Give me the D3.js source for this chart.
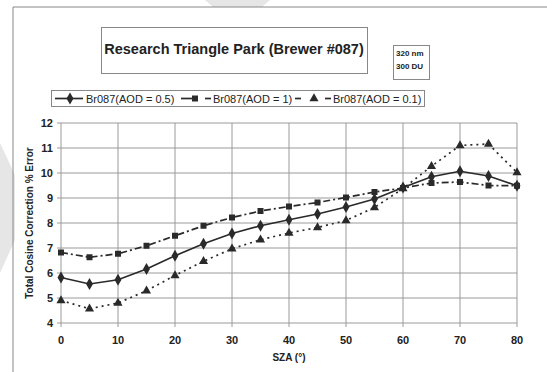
<!DOCTYPE html>
<html><head><meta charset="utf-8">
<script src="https://cdn.jsdelivr.net/npm/d3@7/dist/d3.min.js"></script>
<style>body{margin:0;background:#fff}svg{display:block;font-family:"Liberation Sans",Arial,sans-serif}</style>
</head><body><svg id="c" width="547" height="372"></svg>
<script>
const sza = [0,5,10,15,20,25,30,35,40,45,50,55,60,65,70,75,80];
const aod05 = [5.82,5.56,5.73,6.16,6.69,7.17,7.58,7.89,8.13,8.36,8.64,8.96,9.42,9.85,10.07,9.88,9.49];
const aod1  = [6.82,6.63,6.77,7.09,7.49,7.89,8.22,8.48,8.66,8.82,9.02,9.24,9.4,9.6,9.64,9.5,9.49];
const aod01 = [4.9,4.57,4.8,5.29,5.9,6.47,6.97,7.33,7.6,7.82,8.1,8.62,9.38,10.27,11.1,11.16,10.02];
const xTicks = [0,10,20,30,40,50,60,70,80];
const yTicks = [4,5,6,7,8,9,10,11,12];
const seriesNames = ["Br087(AOD = 0.5)","Br087(AOD = 1)","Br087(AOD = 0.1)"];
const title = "Research Triangle Park (Brewer #087)";
const note = ["320 nm","300 DU"];

const svg = d3.select("#c");
// faint background decorations
svg.append("path").attr("d","M0,143 L15,175 L15,240 L0,273 Z").attr("fill","#e6e6e6");
svg.append("path").attr("d","M205,0 L270,0 L262,7 L213,7 Z").attr("fill","#e6e6e6");
// outer frame
svg.append("path").attr("d","M13,372 L13,7 L547,7").attr("fill","none").attr("stroke","#888").attr("stroke-width",1);

const x = d3.scaleLinear().domain([0,80]).range([61,517]);
const y = d3.scaleLinear().domain([4,12]).range([323,123]);

// grid
const g = svg.append("g");
g.selectAll(".gy").data(yTicks).join("line").attr("x1",x(0)-4).attr("x2",x(80))
  .attr("y1",d=>y(d)).attr("y2",d=>y(d)).attr("stroke","#9a9a9a").attr("stroke-width",1);
g.selectAll(".gx").data(xTicks).join("line").attr("y1",y(12)).attr("y2",y(4)+4)
  .attr("x1",d=>x(d)).attr("x2",d=>x(d)).attr("stroke","#9a9a9a").attr("stroke-width",1);
// tick labels
g.selectAll(".ty").data(yTicks).join("text").attr("x",x(0)-8).attr("y",d=>y(d)+4)
  .attr("text-anchor","end").attr("font-size",11).attr("font-weight","bold").attr("fill","#222").text(d=>d);
g.selectAll(".tx").data(xTicks).join("text").attr("x",d=>x(d)).attr("y",y(4)+21)
  .attr("text-anchor","middle").attr("font-size",11).attr("font-weight","bold").attr("fill","#222").text(d=>d);
// axis labels
svg.append("text").attr("transform",`translate(33,${(y(4)+y(12))/2}) rotate(-90)`).attr("text-anchor","middle")
  .attr("font-size",10).attr("font-weight","bold").attr("fill","#222").text("Total Cosine Correction % Error");
svg.append("text").attr("x",(x(0)+x(80))/2).attr("y",361).attr("text-anchor","middle")
  .attr("font-size",10).attr("font-weight","bold").attr("fill","#222").text("SZA (°)");

const col = "#2a2a2a";
const sets = [
  {vals:aod05, dash:null, sym:d3.symbolDiamond, size:42},
  {vals:aod1, dash:"7,3,2,3", sym:d3.symbolSquare, size:36},
  {vals:aod01, dash:"2,4", sym:d3.symbolTriangle, size:36}
];
const line = d3.line().x((d,i)=>x(sza[i])).y(d=>y(d));
sets.forEach(s=>{
  svg.append("path").datum(s.vals).attr("d",line).attr("fill","none").attr("stroke",col)
    .attr("stroke-width",1.7).attr("stroke-dasharray",s.dash);
  svg.selectAll(null).data(s.vals).join("path").attr("d",d3.symbol().type(s.sym).size(s.size))
    .attr("transform",(d,i)=>`translate(${x(sza[i])},${y(d)})`).attr("fill",col);
});

// title box
svg.append("rect").attr("x",101.5).attr("y",27.5).attr("width",266).attr("height",46).attr("fill","#fff").attr("stroke","#888");
svg.append("text").attr("x",234).attr("y",54).attr("text-anchor","middle").attr("font-size",14.5)
  .attr("font-weight","bold").attr("fill","#222").text(title);
// note box
svg.append("rect").attr("x",393.5).attr("y",45.5).attr("width",36).attr("height",34).attr("fill","#fff").attr("stroke","#888");
note.forEach((t,i)=>svg.append("text").attr("x",396).attr("y",56+i*12.5).attr("font-size",8)
  .attr("font-weight","bold").attr("fill","#222").text(t));

// legend
svg.append("rect").attr("x",51.5).attr("y",90.5).attr("width",373).attr("height",16).attr("fill","#fff").attr("stroke","#888");
const ly = 98.5;
const segs = [[[55,83]],[[181,193],[205,211]],[[295,301],[325,331]]];
const marks = [70,195,314];
const textX = [86,213,333];
sets.forEach((s,i)=>{
  segs[i].forEach(([a,b])=>svg.append("line").attr("x1",a).attr("x2",b).attr("y1",ly).attr("y2",ly)
    .attr("stroke",col).attr("stroke-width",1.7));
  svg.append("path").attr("d",d3.symbol().type(s.sym).size(s.size)).attr("transform",`translate(${marks[i]},${ly})`).attr("fill",col);
  svg.append("text").attr("x",textX[i]).attr("y",ly+4).attr("font-size",11).attr("fill","#222").text(seriesNames[i]);
});
</script></body></html>
